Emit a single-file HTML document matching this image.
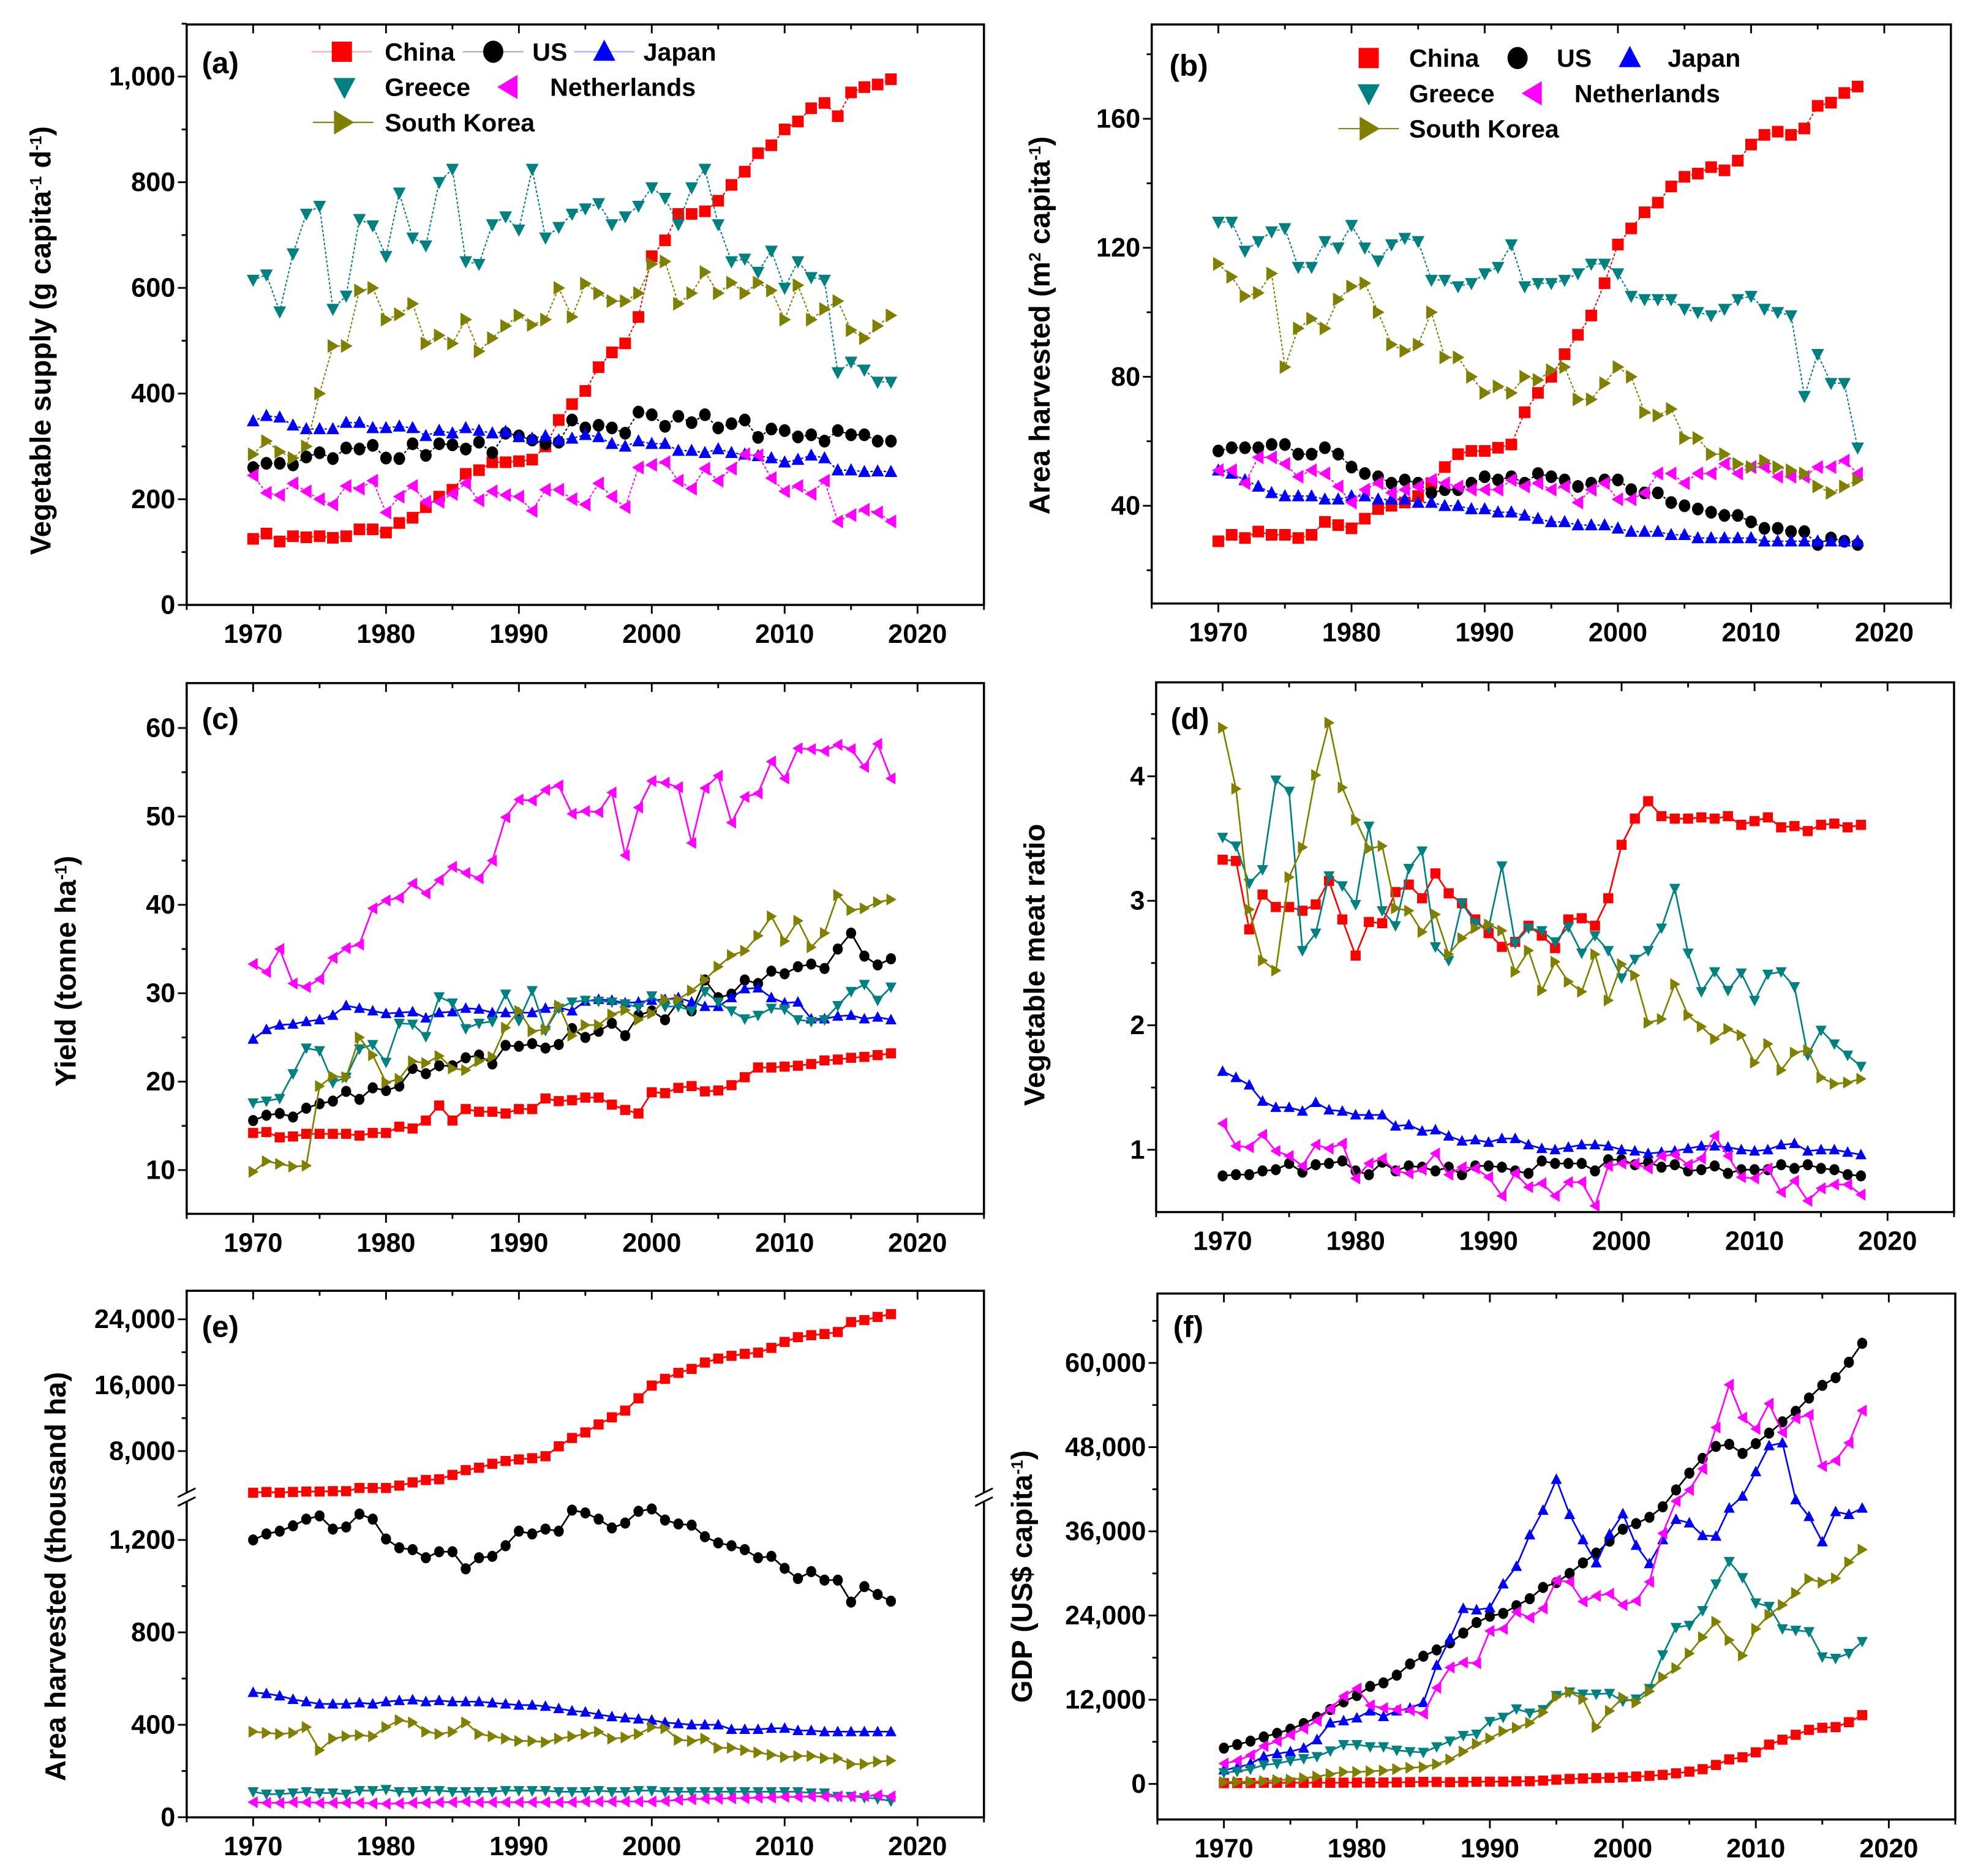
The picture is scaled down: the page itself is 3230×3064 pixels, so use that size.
<!DOCTYPE html>
<html><head><meta charset="utf-8"><style>
html,body{margin:0;padding:0;background:#fff;}
svg{display:block;}
text{font-family:"Liberation Sans",Arial,sans-serif;font-weight:bold;fill:#000;}
</style></head><body>
<svg id="fig" xmlns="http://www.w3.org/2000/svg" width="3230" height="3064" viewBox="0 0 1568 1487.4"></svg>
<script>
const years=[1970,1971,1972,1973,1974,1975,1976,1977,1978,1979,1980,1981,1982,1983,1984,1985,1986,1987,1988,1989,1990,1991,1992,1993,1994,1995,1996,1997,1998,1999,2000,2001,2002,2003,2004,2005,2006,2007,2008,2009,2010,2011,2012,2013,2014,2015,2016,2017,2018];
const countries=["China","US","Japan","Greece","Netherlands","South Korea"];

// (a) Vegetable supply
const aChina=[125,135,120,130,128,130,127,130,143,143,137,155,165,185,205,218,248,255,270,270,272,275,300,350,380,405,450,478,495,545,660,690,740,740,745,765,795,820,855,870,900,915,940,950,925,970,980,985,995];
const aUS=[260,268,268,265,280,288,277,297,295,302,278,277,305,283,305,303,295,308,288,325,320,312,305,308,350,335,340,335,325,365,360,338,357,345,360,335,343,350,317,333,330,318,322,310,330,322,322,310,310];
const aJapan=[348,358,355,340,333,333,333,345,345,335,335,338,335,320,330,325,335,330,325,328,318,315,320,312,315,322,318,305,300,310,305,305,292,292,288,295,288,285,282,278,270,275,283,278,255,255,252,253,252];
const aGreece=[615,625,555,665,740,755,560,585,730,718,660,780,695,680,800,825,650,645,720,735,710,825,695,715,740,750,760,720,735,755,790,770,720,790,825,720,650,655,630,670,600,650,620,615,440,460,445,422,422];
const aNL=[245,212,208,230,215,200,190,225,220,235,175,205,225,195,195,210,230,198,215,208,205,178,218,218,200,190,230,205,185,260,265,270,235,220,258,235,258,285,283,240,215,225,210,235,158,170,180,175,158];
const aKorea=[285,310,290,278,300,400,490,490,595,600,540,550,570,495,510,495,540,480,505,528,548,530,540,600,545,608,590,575,575,590,645,650,570,590,630,590,610,590,610,595,540,605,540,560,575,520,505,528,548];
const aTicks=[0,200,400,600,800,1000];
const aTickLabels=["0","200","400","600","800","1,000"];

// (b) Area harvested per capita
const bChina=[29,31,30,32,31,31,30,31,35,34,33,36,39,40,41,43,47,52,56,57,57,58,59,69,75,80,87,93,99,109,121,126,131,134,139,142,143,145,144,147,152,155,156,155,157,164,165,168,170];
const bUS=[57,58,58,58,59,59,56,56,58,56,52,50,49,47,48,47,44,45,45,47,49,48,49,47,50,49,48,46,47,48,48,45,44,44,41,40,39,38,37,37,35,33,33,32,32,28,30,29,28];
const bJapan=[51,50,48,46,44,43,43,43,42,42,43,43,42,42,42,41,41,40,40,39,39,38,38,37,36,35,35,34,34,34,33,32,32,32,31,31,30,30,30,30,30,29,29,29,29,29,29,29,29];
const bGreece=[128,128,119,122,125,126,114,114,122,120,127,120,116,121,123,122,110,110,108,109,112,114,121,108,109,109,110,112,115,115,112,105,104,104,104,101,100,99,101,104,105,101,100,99,74,87,78,78,58];
const bNL=[51,51,47,55,55,53,49,51,50,46,41,45,47,44,45,46,48,47,46,45,45,45,48,46,47,45,46,41,45,47,42,42,44,50,50,47,50,50,53,50,52,52,49,49,49,52,52,54,50];
const bKorea=[115,111,105,106,112,83,95,98,95,104,108,109,100,90,88,90,100,86,86,80,75,77,75,80,79,82,83,73,73,78,83,80,69,68,70,61,61,56,56,53,52,54,52,51,50,46,44,46,48];
const bTicks=[40,80,120,160];
const bTickLabels=["40","80","120","160"];

// (c) Yield
const cChina=[14.2,14.3,13.7,13.8,14.1,14.1,14.1,14.1,13.9,14.2,14.2,14.9,14.7,15.6,17.3,15.6,16.9,16.6,16.6,16.4,16.9,16.9,18.1,17.8,17.9,18.2,18.2,17.4,16.8,16.4,18.8,18.7,19.3,19.5,18.9,19.0,19.6,20.5,21.6,21.6,21.7,21.8,22.0,22.4,22.5,22.7,22.8,23.0,23.2];
const cUS=[15.6,16.2,16.4,16.0,17.0,17.5,17.8,18.9,18.0,19.3,19.0,19.5,21.5,20.9,21.8,21.8,22.7,23.0,22.0,24.1,24.0,24.3,23.8,24.2,26.0,25.0,25.7,26.6,25.2,27.5,28.0,27.0,29.0,28.0,31.5,29.5,29.9,31.5,31.1,32.5,32.2,33.0,33.3,32.8,35.0,36.8,34.2,33.2,33.9];
const cJapan=[24.8,25.9,26.4,26.5,26.8,27.0,27.5,28.6,28.3,28.0,27.7,27.8,27.9,27.2,27.8,27.9,28.3,28.2,27.8,27.8,27.8,27.8,28.3,28.4,28.0,29.1,29.3,29.2,28.9,29.0,29.2,29.3,29.5,29.0,28.5,28.5,29.5,30.5,30.6,29.5,28.9,29.0,27.1,27.1,27.4,27.5,27.1,27.3,27.0];
const cGreece=[17.6,17.8,18.1,20.9,23.8,23.5,19.9,20.5,23.7,24.2,22.2,26.6,26.5,25.1,29.6,28.9,26.0,26.6,26.8,29.9,26.9,30.3,25.8,28.3,29.0,29.2,29.1,29.0,28.8,28.4,29.7,28.5,28.5,28.0,30.2,29.0,28.0,27.1,27.5,28.3,28.2,27.0,26.8,27.0,28.6,30.2,31.0,29.2,30.7];
const cNL=[33.3,32.4,35.0,31.1,30.7,31.6,34.0,35.1,35.5,39.6,40.5,40.8,42.4,41.3,42.8,44.3,43.6,43.0,45.0,49.9,51.9,51.8,53.0,53.5,50.3,50.6,50.5,52.7,45.6,51.0,54.0,53.8,53.3,47.0,53.2,54.6,49.3,52.2,52.6,56.2,54.3,57.7,57.6,57.4,58.1,57.6,55.6,58.2,54.3];
const cKorea=[9.8,11.0,10.7,10.4,10.5,19.5,20.6,20.5,25.0,23.0,19.9,20.3,22.3,22.1,22.9,21.5,21.3,22.3,22.8,26.1,28.0,25.7,25.9,28.6,25.2,26.4,26.4,27.6,28.1,27.0,27.7,29.3,29.3,30.3,31.5,33.0,34.3,34.8,36.5,38.7,35.9,38.2,35.2,36.8,41.1,39.4,39.6,40.3,40.6];
const cTicks=[10,20,30,40,50,60];
const cTickLabels=["10","20","30","40","50","60"];

// (d) Vegetable meat ratio
const dChina=[3.33,3.32,2.77,3.05,2.95,2.95,2.92,2.97,3.16,2.85,2.56,2.83,2.82,3.07,3.13,3.02,3.22,3.06,2.98,2.85,2.74,2.63,2.67,2.80,2.72,2.62,2.85,2.86,2.80,3.02,3.45,3.66,3.80,3.68,3.66,3.66,3.67,3.66,3.68,3.61,3.64,3.67,3.59,3.60,3.56,3.61,3.62,3.59,3.61];
const dUS=[0.79,0.80,0.80,0.83,0.84,0.89,0.82,0.88,0.89,0.91,0.83,0.80,0.90,0.83,0.87,0.86,0.83,0.86,0.80,0.87,0.87,0.86,0.83,0.81,0.91,0.89,0.89,0.89,0.83,0.92,0.92,0.88,0.90,0.86,0.88,0.83,0.84,0.87,0.81,0.84,0.84,0.84,0.88,0.85,0.88,0.85,0.84,0.80,0.79];
const dJapan=[1.63,1.58,1.52,1.39,1.34,1.34,1.31,1.38,1.32,1.31,1.28,1.28,1.28,1.19,1.20,1.15,1.16,1.11,1.07,1.08,1.06,1.09,1.09,1.04,1.01,1.00,1.02,1.04,1.04,1.03,1.00,0.99,0.97,0.98,0.99,1.01,1.03,1.03,1.02,1.00,0.99,1.00,1.04,1.05,0.99,1.00,1.00,0.98,0.96];
const dGreece=[3.51,3.44,3.14,3.25,3.97,3.88,2.60,2.74,3.20,3.12,2.97,3.60,2.92,2.80,3.26,3.40,2.63,2.52,2.98,2.82,2.78,3.28,2.66,2.78,2.76,2.67,2.79,2.58,2.72,2.60,2.38,2.53,2.60,2.78,3.10,2.58,2.27,2.43,2.28,2.42,2.20,2.41,2.43,2.31,1.76,1.96,1.85,1.76,1.67];
const dNL=[1.21,1.03,1.02,1.12,0.99,0.95,0.87,1.04,1.01,1.05,0.77,0.89,0.93,0.83,0.81,0.84,0.97,0.80,0.86,0.85,0.78,0.63,0.81,0.70,0.73,0.63,0.74,0.74,0.55,0.87,0.89,0.89,0.85,0.95,0.96,0.88,0.93,1.11,0.95,0.78,0.77,0.85,0.66,0.75,0.59,0.69,0.72,0.72,0.64];
const dKorea=[4.39,3.90,2.93,2.52,2.44,3.19,3.43,4.01,4.43,3.91,3.65,3.42,3.44,2.94,2.92,2.75,2.89,2.57,2.70,2.78,2.81,2.76,2.43,2.60,2.28,2.51,2.35,2.27,2.57,2.20,2.49,2.40,2.02,2.05,2.33,2.08,1.99,1.89,1.97,1.92,1.70,1.85,1.64,1.78,1.80,1.58,1.53,1.54,1.57];
const dTicks=[1,2,3,4];
const dTickLabels=["1","2","3","4"];

// (e) Area harvested (thousand ha), broken axis
const eChina=[2940,3036,2940,3036,3085,3085,3133,3133,3518,3518,3518,3807,4193,4482,4578,5108,5687,5976,6458,6795,6988,7133,7373,8578,9590,10265,11229,12096,12915,14409,15951,16771,17494,17976,18747,19229,19566,19807,19952,20530,21253,21831,22072,22217,22458,23662,23903,24289,24626];
const eUS=[1200,1226,1238,1261,1290,1304,1247,1256,1312,1290,1204,1166,1158,1123,1149,1149,1075,1123,1129,1175,1238,1226,1247,1238,1329,1317,1290,1252,1273,1324,1334,1286,1269,1264,1214,1187,1175,1158,1123,1129,1077,1033,1063,1026,1026,931,998,964,935];
const eJapan=[540,535,525,510,500,490,490,490,495,490,500,505,508,500,505,500,500,500,495,490,485,485,480,470,460,455,445,435,430,425,420,410,405,400,400,400,380,380,380,385,385,375,375,370,370,370,370,370,370];
const eGreece=[110,100,100,105,110,105,105,100,115,115,120,110,110,115,115,110,110,110,110,115,115,115,115,110,110,110,115,110,110,115,115,110,110,110,110,110,110,110,110,110,110,110,105,105,90,90,85,80,70];
const eNL=[65,62,62,65,65,62,62,62,62,60,58,60,62,62,65,65,68,65,65,65,65,65,65,65,65,68,68,68,68,68,68,70,75,78,80,80,82,82,85,85,88,88,90,90,90,90,92,95,90];
const eKorea=[370,365,360,365,390,290,340,350,355,350,390,420,410,370,360,370,410,360,350,340,330,330,325,340,350,360,370,340,345,360,390,385,335,330,340,300,300,290,280,270,260,265,265,255,255,230,230,240,245];
const eTicksLow=[0,400,800,1200];
const eTickLabelsLow=["0","400","800","1,200"];
const eTicksHigh=[8000,16000,24000];
const eTickLabelsHigh=["8,000","16,000","24,000"];

// (f) GDP per capita
const fChina=[110,120,130,160,160,180,160,180,160,180,190,200,200,220,250,290,280,250,280,310,320,330,370,380,470,610,710,780,830,870,950,1050,1150,1290,1510,1750,2100,2700,3500,3800,4500,5600,6300,7000,7700,8000,8100,8800,9800];
const fUS=[5100,5600,6100,6700,7200,7800,8600,9500,10600,11700,12600,13900,14400,15500,17100,18200,19100,20100,21500,23000,23900,24300,25400,26400,28000,28700,30000,31500,32900,34600,36300,37100,38000,39500,41900,44300,46400,48100,48400,47100,48500,50000,51600,53100,55000,56800,57900,60100,62800];
const fJapan=[2000,2300,2900,3900,4300,4600,5100,6300,8700,9000,9400,10400,9600,10400,10800,11600,16900,20700,25000,24800,25100,28500,31000,35500,39000,43400,38400,34800,31500,35600,38500,34000,31400,34800,37700,37200,35400,35300,39300,41000,44500,48200,48600,40500,38100,34500,38800,38400,39300];
const fGreece=[1600,1800,2100,2700,2900,3300,3600,3900,4700,5600,5600,5300,5300,4800,4600,4500,5300,6100,6900,7100,8900,9500,10700,10100,10600,12600,13100,12800,12800,12900,11800,12100,13600,18400,22300,22600,24700,28500,31700,29400,25800,25300,22100,21900,21700,18100,17900,18600,20300];
const fNL=[2900,3300,4100,5400,6100,7000,7900,9000,10700,12500,13600,11200,10800,10600,10500,10000,13700,16600,17300,17200,21800,22100,24500,23700,25000,29000,28800,26000,26800,27100,25500,26100,28800,35700,40300,41900,44900,50800,56900,52200,50600,54200,50100,52100,52600,45300,46100,48600,53200];
const fKorea=[280,300,320,400,540,610,830,1050,1400,1700,1700,1800,1900,2100,2300,2400,2800,3500,4600,5700,6500,7500,8000,8700,10200,12400,13100,12100,8100,10400,12300,11600,13200,15200,16500,18600,20900,23100,20500,18300,22100,24100,25500,27200,29200,28700,29300,31600,33400];
const fTicks=[0,12000,24000,36000,48000,60000];
const fTickLabels=["0","12,000","24,000","36,000","48,000","60,000"];

const xTicks=[1970,1980,1990,2000,2010,2020];
const xTickLabels=["1970","1980","1990","2000","2010","2020"];

const NS="http://www.w3.org/2000/svg";
const svg=document.getElementById('fig');
const colors=["#ff0000","#000000","#0000ff","#008080","#ff00ff","#808000"];
const shapes=["square","circle","up","down","left","right"];
const slugs=["china","us","japan","greece","netherlands","south-korea"];

function mk(tag,attrs,parent){const e=document.createElementNS(NS,tag);for(const k in attrs)e.setAttribute(k,attrs[k]);(parent||svg).appendChild(e);return e;}

function marker(g,shape,x,y,r,color){
  let e;
  if(shape==="square")e=mk('rect',{x:x-r,y:y-r,width:2*r,height:2*r,fill:color},g);
  else if(shape==="circle")e=mk('ellipse',{cx:x,cy:y,rx:r,ry:r*1.1,fill:color},g);
  else{let p;
    if(shape==="up")p=[[x,y-r*1.2],[x+r*1.1,y+r*0.9],[x-r*1.1,y+r*0.9]];
    else if(shape==="down")p=[[x,y+r*1.2],[x+r*1.1,y-r*0.9],[x-r*1.1,y-r*0.9]];
    else if(shape==="left")p=[[x-r*1.1,y],[x+r*0.9,y-r*1.2],[x+r*0.9,y+r*1.2]];
    else p=[[x+r*1.1,y],[x-r*0.9,y-r*1.2],[x-r*0.9,y+r*1.2]];
    e=mk('polygon',{points:p.map(q=>q.join(',')).join(' '),fill:color},g);}
  return e;
}

function panel(P){
  const g=mk('g',{});
  
  
  const xs=v=>P.l+(v-1965)/60*(P.r-P.l);
  P.series.forEach((arr,si)=>{
    const sg=mk('g',{},g);
    
    
    const pts=arr.map((v,i)=>[xs(years[i]),P.ys(v)]);
    const pl=mk('polyline',{points:pts.map(p=>p[0].toFixed(1)+','+p[1].toFixed(1)).join(' '),fill:'none',stroke:colors[si],'stroke-width':P.dash?1:1.3,'stroke-dasharray':P.dash?'2,1.5':'none'},sg);
    
    
    pts.forEach((p,i)=>{const m=marker(sg,shapes[si],p[0],p[1],P.ms,colors[si]);
      
      });
  });
  const fr=mk('rect',{x:P.l,y:P.t,width:P.r-P.l,height:P.b-P.t,fill:'none',stroke:'#000','stroke-width':1.7},g);
  
  
  for(let yr=1965;yr<=2025;yr+=5){const x=xs(yr);const maj=yr%10===0;
    mk('line',{x1:x,y1:P.b,x2:x,y2:P.b+(maj?7:4),stroke:'#000','stroke-width':1.4},g);
    mk('line',{x1:x,y1:P.t,x2:x,y2:P.t+(maj?7:4),stroke:'#000','stroke-width':1.4},g);}
  xTicks.forEach((v,i)=>{const t=mk('text',{x:xs(v),y:P.b+30,'text-anchor':'middle','font-size':21},g);t.textContent=xTickLabels[i];
    
    });
  P.yt.forEach(([vals,labels,minor])=>{
    vals.forEach((v,i)=>{const y=P.ys(v);mk('line',{x1:P.l-7,y1:y,x2:P.l,y2:y,stroke:'#000','stroke-width':1.4},g);
      const t=mk('text',{x:P.l-9,y:y+7,'text-anchor':'end','font-size':21},g);t.textContent=labels[i];
      
      });
    minor.forEach(v=>{const y=P.ys(v);mk('line',{x1:P.l-4,y1:y,x2:P.l,y2:y,stroke:'#000','stroke-width':1.4},g);});
  });
  const pl=mk('text',{x:P.lx,y:P.ly,'font-size':24},g);pl.textContent='('+P.id+')';
  
  
  const yt=mk('text',{x:0,y:0,'font-size':23,'text-anchor':'middle',transform:`translate(${P.tx},${P.ty}) rotate(-90)`},g);
  yt.innerHTML=P.title;
  
  
  return {g,xs};
}

function legend(L){
  const g=mk('g',{});
  
  
  L.items.forEach(([si,mx,my,tx,line])=>{
    const eg=mk('g',{},g);
    
    
    if(line)mk('line',{x1:mx-24,y1:my,x2:mx+24,y2:my,stroke:colors[si],'stroke-width':1,opacity:si===5?1:0.35},eg);
    marker(eg,shapes[si],mx,my,8,colors[si]);
    const t=mk('text',{x:tx,y:my+7,'font-size':20},eg);t.textContent=countries[si];
  });
}

const sup='<tspan baseline-shift="super" font-size="13">-1</tspan>';
panel({id:'a',l:148,r:780,t:19.4,b:479.6,ys:v=>479.6-v*0.4189,dash:true,ms:4.6,
  series:[aChina,aUS,aJapan,aGreece,aNL,aKorea],
  yt:[[aTicks,aTickLabels,[100,300,500,700,900,1100]]],lx:160,ly:58,tx:40,ty:270,
  title:'Vegetable supply (g capita'+sup+' d'+sup+')'});
legend({id:'a',items:[[0,271,41,305,true],[1,391,41,422,true],[2,479,41,510,true],[3,273,69,305,false],[4,403,69,436,false],[5,272,97,305,true]]});
panel({id:'b',l:913,r:1546.5,t:19.4,b:478.5,ys:v=>401-(v-40)*2.557,dash:true,ms:4.6,
  series:[bChina,bUS,bJapan,bGreece,bNL,bKorea],
  yt:[[bTicks,bTickLabels,[20,60,100,140,180]]],lx:927,ly:60,tx:832,ty:258,
  title:'Area harvested (m<tspan baseline-shift="super" font-size="13">2</tspan> capita'+sup+')'});
legend({id:'b',items:[[0,1085,46,1117,false],[1,1203,46,1234,false],[2,1292,46,1322,false],[3,1085,74,1117,false],[4,1215,74,1248,false],[5,1085,102,1117,true]]});
panel({id:'c',l:148,r:780,t:541.6,b:962.4,ys:v=>927.7-(v-10)*7.01,dash:false,ms:4,
  series:[cChina,cUS,cJapan,cGreece,cNL,cKorea],
  yt:[[cTicks,cTickLabels,[15,25,35,45,55]]],lx:160,ly:578,tx:60,ty:770,
  title:'Yield (tonne ha'+sup+')'});
panel({id:'d',l:916.5,r:1549,t:541,b:961,ys:v=>911.6-(v-1)*98.7,dash:false,ms:4,
  series:[dChina,dUS,dJapan,dGreece,dNL,dKorea],
  yt:[[dTicks,dTickLabels,[1.5,2.5,3.5,4.5]]],lx:928,ly:578,tx:828,ty:765,
  title:'Vegetable meat ratio'});
const eScale=v=>v>=2500?1150.5-(v-8000)*0.00653:1440.8-v*0.1832;
panel({id:'e',l:148,r:780,t:1023.4,b:1440.9,ys:eScale,dash:false,ms:4,
  series:[eChina,eUS,eJapan,eGreece,eNL,eKorea],
  yt:[[eTicksLow,eTickLabelsLow,[200,600,1000]],[eTicksHigh,eTickLabelsHigh,[12000,20000]]],lx:160,ly:1060,tx:52,ty:1250,
  title:'Area harvested (thousand ha)'});
[148,780].forEach(x=>{
  const bg=mk('g',{});
  
  
  mk('rect',{x:x-3,y:1184,width:6,height:6,fill:'#fff'},bg);
  mk('line',{x1:x-7,y1:1187,x2:x+7,y2:1180,stroke:'#000','stroke-width':1.4},bg);
  mk('line',{x1:x-7,y1:1194,x2:x+7,y2:1187,stroke:'#000','stroke-width':1.4},bg);
});
panel({id:'f',l:917.5,r:1550,t:1025.6,b:1442.6,ys:v=>1414.4-v*0.005563,dash:false,ms:4,
  series:[fChina,fUS,fJapan,fGreece,fNL,fKorea],
  yt:[[fTicks,fTickLabels,[6000,18000,30000,42000,54000,66000]]],lx:930,ly:1060,tx:818,ty:1250,
  title:'GDP (US$ capita'+sup+')'});
</script>
</body></html>
